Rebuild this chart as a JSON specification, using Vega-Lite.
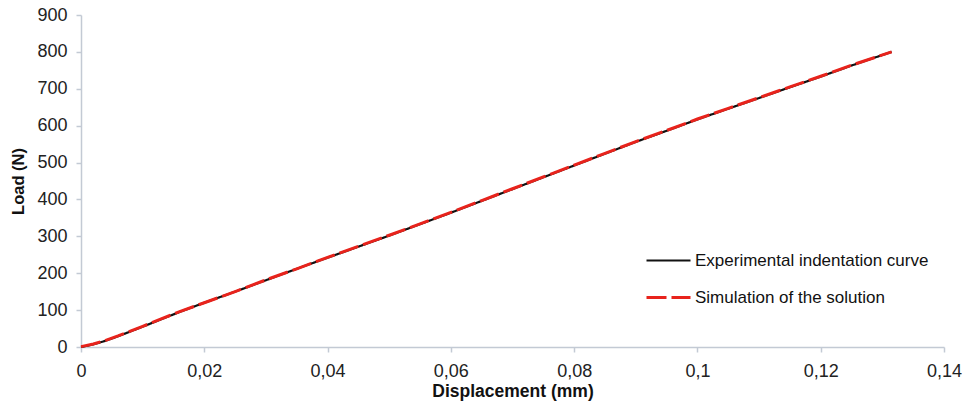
{
  "$schema": "https://vega.github.io/schema/vega-lite/v6.json",
  "width": 863,
  "height": 332,
  "autosize": "none",
  "padding": {"left": 81, "top": 15, "right": 26, "bottom": 59},
  "background": "white",
  "config": {
    "view": {"stroke": null},
    "font": "Liberation Sans",
    "axis": {
      "domainColor": "#c3cad4",
      "tickColor": "#c3cad4",
      "domainWidth": 1.5,
      "tickWidth": 1.5,
      "tickSize": 5,
      "grid": false,
      "labelColor": "#222222",
      "labelFontSize": 18,
      "labelFont": "Liberation Sans",
      "titleFont": "Liberation Sans",
      "titleFontSize": 16.5,
      "titleFontWeight": "bold",
      "titleColor": "#111111"
    }
  },
  "data": {
    "values": [
      {"disp": 0, "load": 0, "series": "Experimental indentation curve"},
      {"disp": 0.002, "load": 7, "series": "Experimental indentation curve"},
      {"disp": 0.004, "load": 17, "series": "Experimental indentation curve"},
      {"disp": 0.006, "load": 29, "series": "Experimental indentation curve"},
      {"disp": 0.008, "load": 42, "series": "Experimental indentation curve"},
      {"disp": 0.010, "load": 55, "series": "Experimental indentation curve"},
      {"disp": 0.013, "load": 75, "series": "Experimental indentation curve"},
      {"disp": 0.016, "load": 95, "series": "Experimental indentation curve"},
      {"disp": 0.020, "load": 120, "series": "Experimental indentation curve"},
      {"disp": 0.025, "load": 150, "series": "Experimental indentation curve"},
      {"disp": 0.030, "load": 181, "series": "Experimental indentation curve"},
      {"disp": 0.035, "load": 212, "series": "Experimental indentation curve"},
      {"disp": 0.040, "load": 242, "series": "Experimental indentation curve"},
      {"disp": 0.045, "load": 272, "series": "Experimental indentation curve"},
      {"disp": 0.050, "load": 302, "series": "Experimental indentation curve"},
      {"disp": 0.055, "load": 333, "series": "Experimental indentation curve"},
      {"disp": 0.060, "load": 364, "series": "Experimental indentation curve"},
      {"disp": 0.065, "load": 396, "series": "Experimental indentation curve"},
      {"disp": 0.070, "load": 428, "series": "Experimental indentation curve"},
      {"disp": 0.075, "load": 460, "series": "Experimental indentation curve"},
      {"disp": 0.080, "load": 492, "series": "Experimental indentation curve"},
      {"disp": 0.085, "load": 524, "series": "Experimental indentation curve"},
      {"disp": 0.090, "load": 556, "series": "Experimental indentation curve"},
      {"disp": 0.095, "load": 586, "series": "Experimental indentation curve"},
      {"disp": 0.100, "load": 617, "series": "Experimental indentation curve"},
      {"disp": 0.105, "load": 646, "series": "Experimental indentation curve"},
      {"disp": 0.110, "load": 675, "series": "Experimental indentation curve"},
      {"disp": 0.115, "load": 704, "series": "Experimental indentation curve"},
      {"disp": 0.120, "load": 733, "series": "Experimental indentation curve"},
      {"disp": 0.125, "load": 763, "series": "Experimental indentation curve"},
      {"disp": 0.1315, "load": 800, "series": "Experimental indentation curve"},
      {"disp": 0, "load": 1, "series": "Simulation of the solution"},
      {"disp": 0.002, "load": 8, "series": "Simulation of the solution"},
      {"disp": 0.004, "load": 18, "series": "Simulation of the solution"},
      {"disp": 0.006, "load": 30, "series": "Simulation of the solution"},
      {"disp": 0.008, "load": 43, "series": "Simulation of the solution"},
      {"disp": 0.010, "load": 56, "series": "Simulation of the solution"},
      {"disp": 0.013, "load": 76, "series": "Simulation of the solution"},
      {"disp": 0.016, "load": 96, "series": "Simulation of the solution"},
      {"disp": 0.020, "load": 120, "series": "Simulation of the solution"},
      {"disp": 0.025, "load": 150, "series": "Simulation of the solution"},
      {"disp": 0.030, "load": 182, "series": "Simulation of the solution"},
      {"disp": 0.035, "load": 212, "series": "Simulation of the solution"},
      {"disp": 0.040, "load": 243, "series": "Simulation of the solution"},
      {"disp": 0.045, "load": 273, "series": "Simulation of the solution"},
      {"disp": 0.050, "load": 303, "series": "Simulation of the solution"},
      {"disp": 0.055, "load": 334, "series": "Simulation of the solution"},
      {"disp": 0.060, "load": 365, "series": "Simulation of the solution"},
      {"disp": 0.065, "load": 397, "series": "Simulation of the solution"},
      {"disp": 0.070, "load": 429, "series": "Simulation of the solution"},
      {"disp": 0.075, "load": 461, "series": "Simulation of the solution"},
      {"disp": 0.080, "load": 493, "series": "Simulation of the solution"},
      {"disp": 0.085, "load": 525, "series": "Simulation of the solution"},
      {"disp": 0.090, "load": 557, "series": "Simulation of the solution"},
      {"disp": 0.095, "load": 587, "series": "Simulation of the solution"},
      {"disp": 0.100, "load": 618, "series": "Simulation of the solution"},
      {"disp": 0.105, "load": 647, "series": "Simulation of the solution"},
      {"disp": 0.110, "load": 676, "series": "Simulation of the solution"},
      {"disp": 0.115, "load": 705, "series": "Simulation of the solution"},
      {"disp": 0.120, "load": 734, "series": "Simulation of the solution"},
      {"disp": 0.125, "load": 764, "series": "Simulation of the solution"},
      {"disp": 0.1315, "load": 800, "series": "Simulation of the solution"}
    ]
  },
  "mark": {"type": "line", "strokeCap": "butt"},
  "encoding": {
    "x": {
      "field": "disp",
      "type": "quantitative",
      "scale": {"domain": [0, 0.14], "nice": false},
      "axis": {
        "title": "Displacement (mm)",
        "titleFontSize": 17.5,
        "values": [0, 0.02, 0.04, 0.06, 0.08, 0.1, 0.12, 0.14],
        "labelExpr": "replace(format(datum.value, '~g'), '.', ',')",
        "labelPadding": 10,
        "titlePadding": 2,
        "labelFlush": false
      }
    },
    "y": {
      "field": "load",
      "type": "quantitative",
      "scale": {"domain": [0, 900], "nice": false},
      "axis": {
        "title": "Load (N)",
        "values": [0, 100, 200, 300, 400, 500, 600, 700, 800, 900],
        "labelPadding": 9,
        "titlePadding": 10
      }
    },
    "color": {
      "field": "series",
      "type": "nominal",
      "scale": {
        "domain": ["Experimental indentation curve", "Simulation of the solution"],
        "range": ["#111111", "#e8231c"]
      },
      "legend": {
        "title": null,
        "orient": "none",
        "legendX": 564,
        "legendY": 222,
        "symbolType": "stroke",
        "symbolSize": 1936,
        "symbolStrokeWidth": 2.5,
        "labelFontSize": 17,
        "labelFont": "Liberation Sans",
        "labelColor": "#111111",
        "labelOffset": 3,
        "labelLimit": 0,
        "rowPadding": 5
      }
    },
    "strokeDash": {
      "field": "series",
      "type": "nominal",
      "scale": {
        "domain": ["Experimental indentation curve", "Simulation of the solution"],
        "range": [[1, 0], [20, 5]]
      },
      "legend": null
    },
    "strokeWidth": {
      "field": "series",
      "type": "nominal",
      "scale": {
        "domain": ["Experimental indentation curve", "Simulation of the solution"],
        "range": [2.2, 3]
      },
      "legend": null
    }
  }
}
